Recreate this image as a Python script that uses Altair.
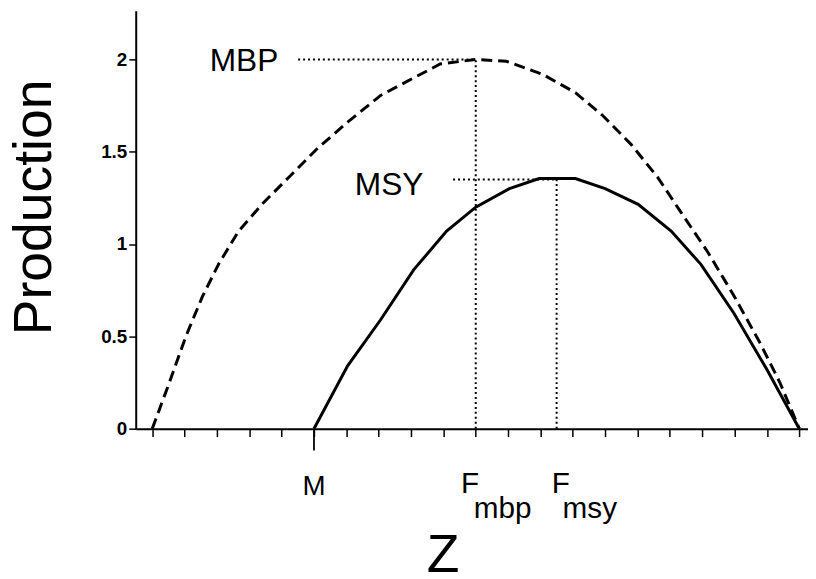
import altair as alt
import pandas as pd

# ---- values ----
# dashed curve (biomass production, MBP)
mbp_z = [0, 0.53, 1.04, 1.55, 2.06, 2.67, 3.39, 4.2, 5.12, 6.04, 7.06, 8.08, 8.9,
         10.0, 10.94, 12.06, 13.08, 13.9, 14.8, 15.63, 16.35, 17.16, 17.98, 18.8, 19.4, 20]
mbp_prod = [0, 0.25, 0.50, 0.715, 0.894, 1.07, 1.215, 1.358, 1.52, 1.66, 1.805, 1.90, 1.975,
            2.0, 1.99, 1.92, 1.82, 1.70, 1.54, 1.36, 1.17, 0.96, 0.72, 0.46, 0.25, 0]
# solid curve (yield, MSY)
msy_z = [5, 6.04, 7.06, 8.08, 9.1, 10.0, 11.04, 11.96, 13.08, 14.0, 15.02, 16.04, 16.96, 17.98, 19.0, 20]
msy_prod = [0, 0.34, 0.59, 0.86, 1.07, 1.2, 1.30, 1.355, 1.355, 1.30, 1.215, 1.07, 0.89, 0.625, 0.32, 0]

x_ticks = list(range(0, 21))
y_ticks = [0, 0.5, 1, 1.5, 2]

M_z = 5
F_mbp_z = 10
F_msy_z = 12.5
MBP_value = 2.0
MSY_value = 1.35
MBP_line_start = 4.51
MSY_line_start = 9.3

X_DOMAIN = [-0.51, 20.27]
Y_DOMAIN = [0, 2.263]

FONT = "Liberation Sans"

xscale = alt.Scale(domain=X_DOMAIN, nice=False, zero=False)
yscale = alt.Scale(domain=Y_DOMAIN, nice=False, zero=False)

curves = pd.DataFrame({
    "z": mbp_z + msy_z,
    "p": mbp_prod + msy_prod,
    "curve": ["MBP"] * len(mbp_z) + ["MSY"] * len(msy_z),
})

x_axis = alt.Axis(
    values=x_ticks, labels=False, grid=False, ticks=True, domain=True,
    tickSize=8, tickWidth=1.5, domainWidth=2, tickColor="black", domainColor="black",
    title="Z", titleFont=FONT, titleFontSize=54, titleFontWeight="normal", titleColor="black",
    titleX=310, titleY=144, titleAlign="center", titleBaseline="alphabetic")
y_axis = alt.Axis(
    values=y_ticks, format="~g", grid=False, ticks=True, domain=True,
    tickSize=7, tickWidth=1.5, domainWidth=2, tickColor="black", domainColor="black",
    labelFont=FONT, labelFontSize=19, labelFontWeight="bold", labelPadding=2, labelColor="black",
    title="Production", titleFont=FONT, titleFontSize=54, titleFontWeight="normal",
    titleColor="black", titleAngle=270, titleX=-86, titleY=198, titleAlign="center",
    titleBaseline="alphabetic")

def X(field="z:Q"):
    return alt.X(field, scale=xscale, axis=x_axis)

def Y(field="p:Q"):
    return alt.Y(field, scale=yscale, axis=y_axis)

dashed = alt.Chart(curves).transform_filter(alt.datum.curve == "MBP").mark_line(
    color="black", strokeWidth=3, strokeDash=[11, 6]).encode(x=X(), y=Y(), order="z:Q")
solid = alt.Chart(curves).transform_filter(alt.datum.curve == "MSY").mark_line(
    color="black", strokeWidth=3).encode(x=X(), y=Y(), order="z:Q")

hlines = pd.DataFrame({"z": [MBP_line_start, MSY_line_start], "z2": [F_mbp_z, F_msy_z],
                       "p": [MBP_value, MSY_value]})
vlines = pd.DataFrame({"z": [F_mbp_z, F_msy_z], "p": [0, 0], "p2": [MBP_value, MSY_value]})

dot_style = dict(color="black", strokeWidth=2, strokeDash=[2, 3])
hrule = alt.Chart(hlines).mark_rule(**dot_style).encode(x=X(), x2="z2:Q", y=Y())
vrule = alt.Chart(vlines).mark_rule(**dot_style).encode(x=X(), y=Y(), y2="p2:Q")

# label table: text and anchor position on the data scales
ann = pd.DataFrame({
    "label": ["MBP", "MSY", "M", "F", "mbp", "F", "msy"],
    "z": [MBP_line_start, MSY_line_start, M_z, F_mbp_z, F_mbp_z, F_msy_z, F_msy_z],
    "p": [MBP_value, MSY_value, 0, 0, 0, 0, 0],
})

m_tick = alt.Chart(ann).transform_filter(alt.datum.label == "M").mark_rule(
    color="black", strokeWidth=1.8).encode(x=X(), y=Y(), y2=alt.value(444))

def label(text, **kw):
    return alt.Chart(ann).transform_filter(alt.datum.label == text).mark_text(
        font=FONT, color="black", baseline="alphabetic", **kw).encode(
        x=X(), y=Y(), text="label:N")

def xlabel(idx, ypix, **kw):
    return alt.Chart(ann).transform_window(i="row_number()").transform_filter(
        alt.datum.i == idx).mark_text(
        font=FONT, color="black", baseline="alphabetic", **kw).encode(
        x=X(), y=alt.value(ypix), text="label:N")

mbp_text = label("MBP", align="right", dx=-20, dy=12, fontSize=32)
msy_text = label("MSY", align="right", dx=-30, dy=16, fontSize=32)

m_lab = xlabel(3, 489, align="center", fontSize=28)
f1 = xlabel(4, 487, align="left", dx=-15, fontSize=30)
s1 = xlabel(5, 512, align="left", dx=-2, fontSize=30)
f2 = xlabel(6, 487, align="left", dx=-5, fontSize=30)
s2 = xlabel(7, 512, align="left", dx=6, fontSize=30)

chart = alt.layer(
    dashed, solid, hrule, vrule, m_tick, mbp_text, msy_text, m_lab, f1, s1, f2, s2
).properties(
    width=679, height=422,
    padding=0,
    background="white",
).configure_view(stroke=None)

chart.save("out.html", embed_options={"renderer": "svg", "actions": False})
